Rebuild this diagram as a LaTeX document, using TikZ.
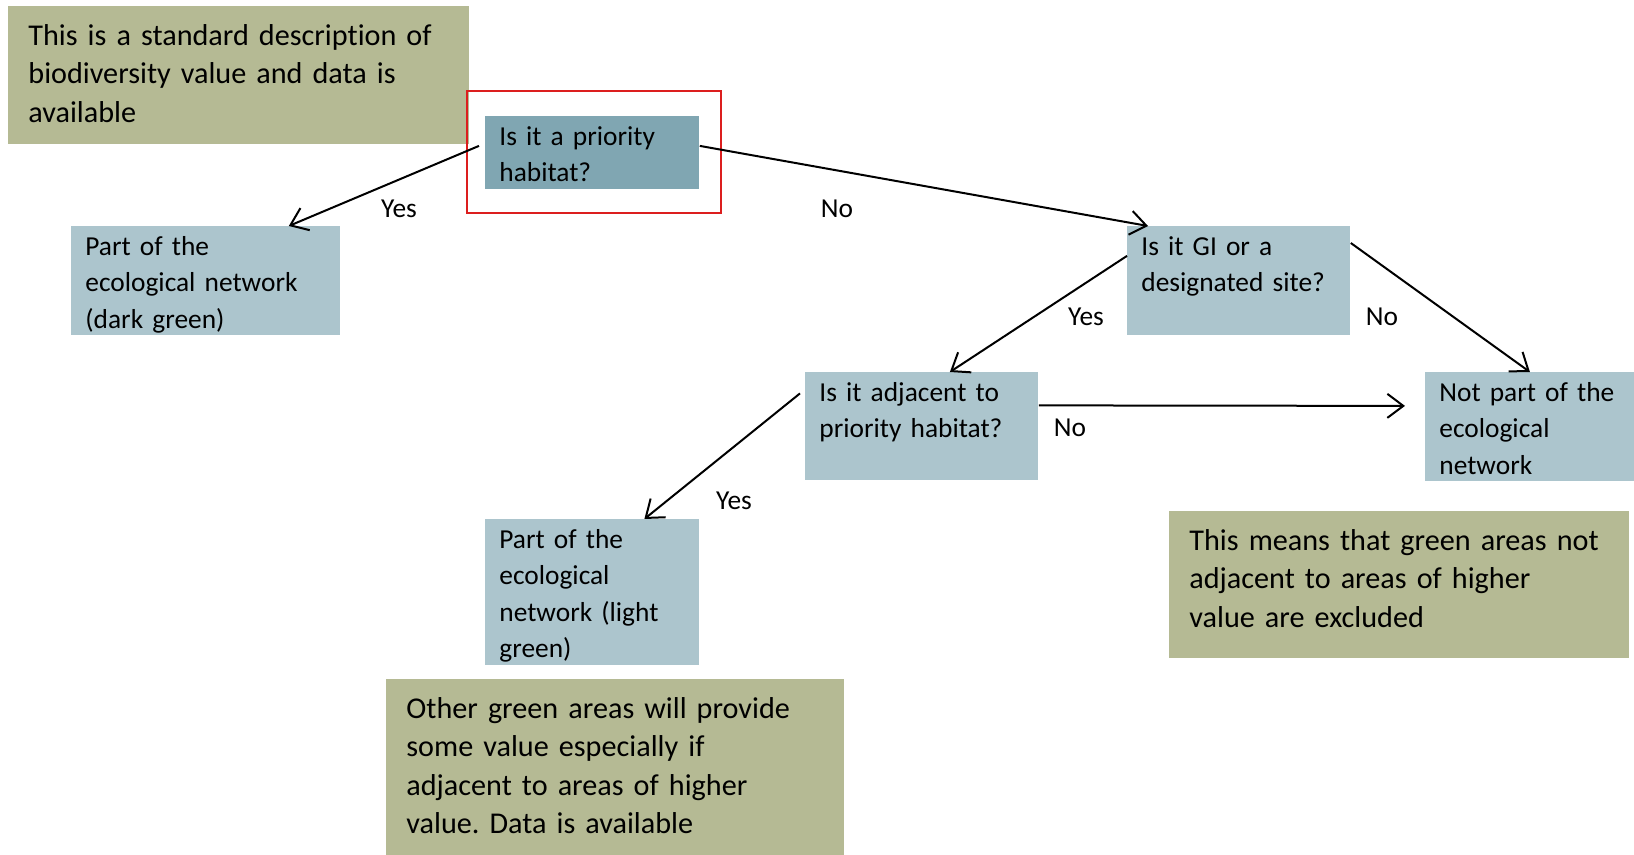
\documentclass[tikz,border=0pt]{standalone}
\usepackage{fontspec}
\setmainfont{Carlito}[Ligatures=NoCommon]
\usepackage{xcolor}
\usepackage{tikz}
\usetikzlibrary{arrows.meta}

\definecolor{qblue}{RGB}{172,197,205}
\definecolor{pblue}{RGB}{128,166,178}
\definecolor{noteolive}{RGB}{181,186,148}
\definecolor{selred}{RGB}{220,30,30}

\newcommand{\qfont}{\fontsize{13.7}{18.25}\selectfont}
\newcommand{\notefont}{\fontsize{15.1}{19.2}\selectfont}
\frenchspacing

\begin{document}
\begin{tikzpicture}[x=0.5pt, y=-0.5pt,
  qbox/.style={fill=qblue, anchor=north west, align=left, font=\qfont,
    inner xsep=7pt, inner ysep=4pt, text height=10.5pt},
  note/.style={fill=noteolive, anchor=north west, align=left, font=\notefont,
    inner xsep=10pt, inner ysep=7.5pt, text height=12pt},
  lbl/.style={anchor=base, font=\qfont, inner sep=0pt}]

\useasboundingbox (0,0) rectangle (1634,855);

% remarks
\node[note, text width=210.5pt, text depth=42pt] (desc) at (8,6)
  {This is a standard description of\\biodiversity value and data is\\available};
\node[note, text width=209pt, text depth=61pt] (other) at (386,679)
  {Other green areas will provide\\some value especially if\\adjacent to areas of higher\\value. Data is available};
\node[note, text width=210pt, text depth=46.5pt] (means) at (1169,511)
  {This means that green areas not\\adjacent to areas of higher\\value are excluded};

% questions and outcomes
\node[draw=selred, line width=1pt, minimum width=127pt, minimum height=61pt, inner sep=0pt] (sel) at (594,152) {};
\node[qbox, fill=pblue, text width=93pt, text depth=18pt] (prio) at (485,116) {Is it a priority\\habitat?};
\node[qbox, text width=120.5pt, text depth=36pt] (dark) at (71,226) {Part of the\\ecological network\\(dark green)};
\node[qbox, text width=97.5pt, text depth=36pt] (gi) at (1127,226) {Is it GI or a\\designated site?};
\node[qbox, text width=102.5pt, text depth=35.5pt] (adj) at (805,372) {Is it adjacent to\\priority habitat?};
\node[qbox, text width=90.5pt, text depth=36pt] (notp) at (1425,372) {Not part of the\\ecological\\network};
\node[qbox, text width=93pt, text depth=54.5pt] (light) at (485,519) {Part of the\\ecological\\network (light\\green)};

\begin{scope}[>={Straight Barb[length=8pt, width=12pt]},
              every edge/.style={draw=black, line width=1pt}]
    \path[->] ([shift={(-3pt,3.5pt)}]prio.west) edge ([xshift=-26pt]dark.north east);
    \path[->] ([yshift=3.5pt]prio.east) edge ([xshift=10.5pt]gi.north west);
    \path[->] ([yshift=12.5pt]gi.west) edge ([xshift=14pt]adj.north);
    \path[->] ([yshift=-8.5pt]gi.north east) edge (notp.north);
    \path[->] ([yshift=10.5pt]adj.east) edge ([shift={(-10pt,10.5pt)}]notp.west);
    \path[->] ([shift={(-2.5pt,16.5pt)}]adj.west) edge ([xshift=26pt]light.north);
\end{scope}

% answers
\node[lbl] (yes1) at (399,218) {Yes};
\node[lbl] (no1) at (837,218) {No};
\node[lbl] (yes2) at (1086,326) {Yes};
\node[lbl] (no2) at (1382,326) {No};
\node[lbl] (no3) at (1070,437) {No};
\node[lbl] (yes3) at (734,510) {Yes};

\end{tikzpicture}
\end{document}
